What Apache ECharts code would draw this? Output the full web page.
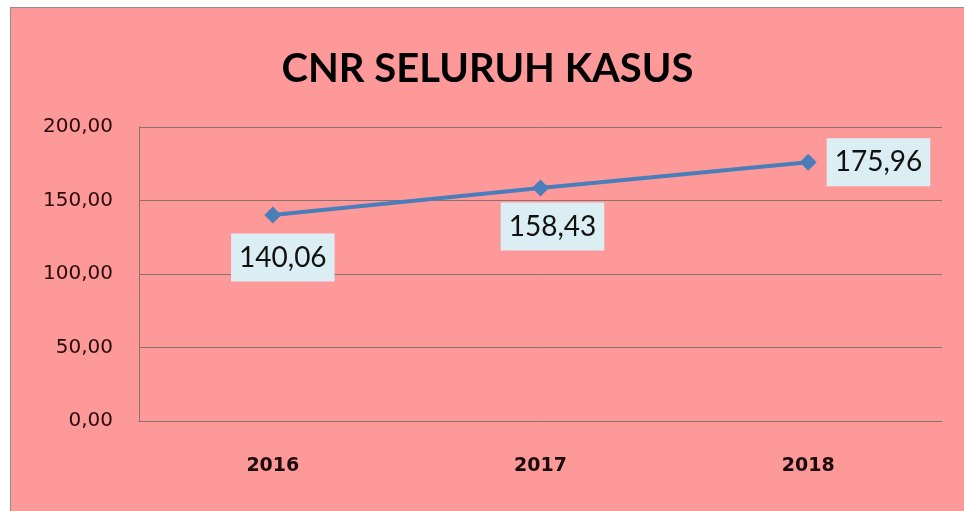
<!DOCTYPE html>
<html>
<head>
<meta charset="utf-8">
<script src="https://cdn.jsdelivr.net/npm/echarts@6/dist/echarts.min.js"></script>
<style>
  html, body { margin: 0; padding: 0; background: #fff; width: 964px; height: 511px; overflow: hidden; }
  #chart {
    position: absolute; left: 10px; top: 7px;
    width: 953px; height: 503px;
    background: #fe9999;
    border-left: 1px solid #9a8a8a;
    border-top: 1px solid #9a8a8a;
  }
</style>
</head>
<body>
<div id="chart"></div>
<script>
var years = ['2016', '2017', '2018'];
var cnrValues = [140.06, 158.43, 175.96];
var yTicks = [0, 50, 100, 150, 200];

function fmt (v) {
	return Number(v).toFixed(2).replace('.', ',');
}

function chartCnr () {
	var chart = echarts.init(document.getElementById('chart'));

	var labelBox = {
		show: true,
		fontFamily: 'Lato',
		fontSize: 28,
		color: '#111',
		backgroundColor: '#dbeef4',
		padding: [10, 8, 10, 8],
		formatter: function (p) { return fmt(p.value); }
	};

	var pointData = cnrValues.map(function (v, i) {
		var lbl;
		if (i === 0) {
			lbl = { position: 'bottom', distance: 10, offset: [10, 0] };
		} else if (i === 1) {
			lbl = { position: 'bottom', distance: 6, offset: [12, 0] };
		} else {
			lbl = { position: 'right', distance: 10, offset: [0, 0] };
		}
		return { value: v, label: lbl };
	});

	var option = {
		animation: false,
		title: {
			text: 'CNR SELURUH KASUS',
			left: 'center',
			top: 36,
			textStyle: {
				fontFamily: 'Lato',
				fontWeight: 'bold',
				fontSize: 40,
				color: '#000'
			}
		},
		grid: {
			left: 128,
			top: 119,
			right: 22,
			bottom: 90
		},
		xAxis: [
			{
				type: 'category',
				boundaryGap: true,
				data: years,
				axisTick: { show: false },
				axisLine: { lineStyle: { color: '#8c7070', width: 1 } },
				axisLabel: {
					margin: 36,
					fontFamily: 'DejaVu Sans',
					fontWeight: 'bold',
					fontSize: 19,
					color: '#1a0a0a'
				}
			}
		],
		yAxis: [
			{
				type: 'value',
				min: yTicks[0],
				max: yTicks[yTicks.length - 1],
				interval: 50,
				axisLine: { show: true, lineStyle: { color: '#8c7070', width: 1 } },
				axisTick: { show: false },
				axisLabel: {
					margin: 26,
					fontFamily: 'DejaVu Sans',
					fontSize: 20,
					color: '#2a0a0a',
					formatter: function (v) { return fmt(v); }
				},
				splitLine: {
					show: true,
					lineStyle: { color: '#8c7070', width: 1, type: 'solid' }
				}
			}
		],
		series: [
			{
				name: 'CNR',
				type: 'line',
				symbol: 'diamond',
				symbolSize: 17,
				lineStyle: { color: '#4a7ebb', width: 4 },
				itemStyle: { color: '#4a7ebb' },
				label: labelBox,
				data: pointData
			}
		]
	};
	chart.setOption(option);
}

chartCnr();
</script>
</body>
</html>
